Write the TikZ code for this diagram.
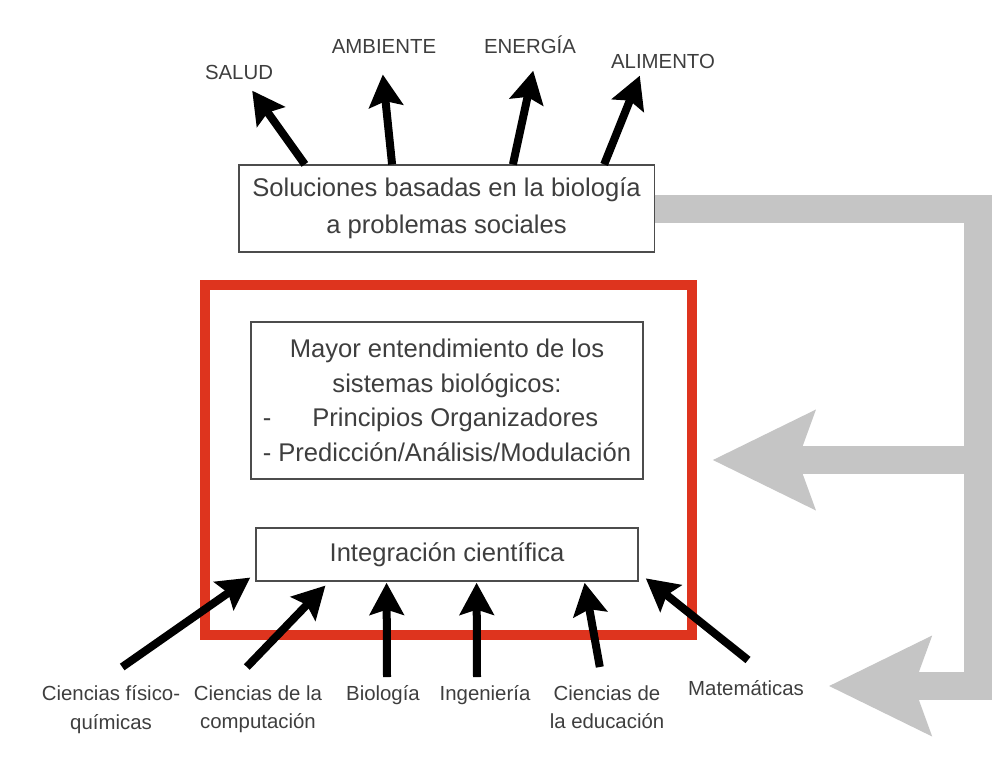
\documentclass[tikz,border=0pt]{standalone}
\usepackage{fontspec}
\setmainfont{Liberation Sans}
\usepackage{calc}
\usepackage{xcolor}
\usepackage{tikz}
\usetikzlibrary{arrows.meta}
\usetikzlibrary{positioning}
\definecolor{rojo}{RGB}{222,52,30}
\definecolor{textogris}{RGB}{62,62,62}
\definecolor{retrogris}{RGB}{197,197,197}
\tikzset{
  Caja/.style={draw=black!70, line width=0.8pt, text=textogris, align=center,
    inner sep=0pt, font=\fontsize{18.2}{24.5}\selectfont}, % Cajas de texto
  Marco/.style={draw=rojo, line width=0.25cm, inner sep=0pt}, % Marco rojo
  Etiqueta/.style={text=textogris, align=center, inner sep=0pt}, % Disciplinas / metas
  Flecha/.style={black, line width=0.2cm, ->}, % Flechas negras
  Retro/.style={retrogris, line width=0.7cm,
    -{Stealth[length=2.53cm,width=2.4cm,inset=0.4cm]}} % Flecha gris de retorno
}

\begin{document}
\begin{tikzpicture}[x=0.025cm, y=-0.025cm,
font=\fontsize{14.5}{20.5}\selectfont,
>={Stealth[length=0.8cm,width=0.85cm,inset=0.13cm]} % Puntas de flecha
]
\useasboundingbox (0,0) rectangle (1004,778);

%Cajas
\node[Marco, minimum width=12.175cm, minimum height=8.75cm] (marco) at (448.5,460) {};

\node[Caja, minimum width=10.375cm, minimum height=2.175cm,
  font=\fontsize{18.2}{26}\selectfont] (Sol) at (446.5,208.5)
  {Soluciones basadas en la biología\\a problemas sociales};

\node[Caja, minimum width=9.8cm, minimum height=3.925cm] (Mayor) at (447,400.5)
  {Mayor entendimiento de los\\ sistemas biológicos:\\
   \makebox[\widthof{- Predicción/Análisis/Modulación}][l]{-\hspace{1.6em}Principios Organizadores}\\
   - Predicción/Análisis/Modulación};

\node[Caja, minimum width=9.55cm, minimum height=1.325cm] (Integ) at (447,554.5)
  {Integración científica};

%Metas
\node[Etiqueta, anchor=base] (salud) at (239,79) {SALUD};
\node[Etiqueta, anchor=base] (ambiente) at (384,53) {AMBIENTE};
\node[Etiqueta, anchor=base] (energia) at (530,53) {ENERGÍA};
\node[Etiqueta, anchor=base] (alimento) at (663,68) {ALIMENTO};

%Disciplinas
\node[Etiqueta, anchor=north] (fisico) at (111,685) {Ciencias físico-\\químicas};
\node[Etiqueta, anchor=north] (comp) at (258,685) {Ciencias de la\\computación};
\node[Etiqueta, anchor=north] (bio) at (383,685) {Biología};
\node[Etiqueta, anchor=north] (ing) at (485,685) {Ingeniería};
\node[Etiqueta, anchor=north] (edu) at (607,685) {Ciencias de\\la educación};
\node[Etiqueta, anchor=north] (mate) at (746,680) {Matemáticas};

%Flecha de retorno
\coordinate (codo) at (978,686);
\draw[Retro, shorten >=.61cm] (Sol.east) -| (codo) -- (codo -| mate.east);
\draw[Retro, shorten >=.38cm] (marco.east -| codo) -- (marco.east);

%Flechas hacia las metas
\draw[Flecha] ([xshift=-3.54cm]Sol.north) -- ([xshift=.33cm,yshift=-.28cm]salud.south);
\draw[Flecha] ([xshift=-1.36cm]Sol.north) -- ([xshift=-.03cm,yshift=-.53cm]ambiente.south);
\draw[Flecha] ([xshift=1.66cm]Sol.north) -- ([xshift=.08cm,yshift=-.43cm]energia.south);
\draw[Flecha] ([xshift=3.94cm]Sol.north) -- ([xshift=-.58cm,yshift=-.18cm]alimento.south);

%Flechas desde las disciplinas
\draw[Flecha] ([xshift=.28cm,yshift=.45cm]fisico.north) -- ([xshift=-.13cm,yshift=.1cm]Integ.south west);
\draw[Flecha] ([xshift=-.28cm,yshift=.45cm]comp.north) -- ([xshift=1.75cm,yshift=-.1cm]Integ.south west);
\draw[Flecha] ([xshift=.1cm,yshift=.2cm]bio.north) -- ([xshift=-1.51cm,yshift=-.03cm]Integ.south);
\draw[Flecha] ([xshift=-.2cm,yshift=.2cm]ing.north) -- ([xshift=.74cm,yshift=-.03cm]Integ.south);
\draw[Flecha] ([xshift=-.18cm,yshift=.45cm]edu.north) -- ([xshift=3.44cm,yshift=-.03cm]Integ.south);
\draw[Flecha] ([xshift=.05cm,yshift=.5cm]mate.north) -- ([xshift=.18cm,yshift=.08cm]Integ.south east);

\end{tikzpicture}
\end{document}
